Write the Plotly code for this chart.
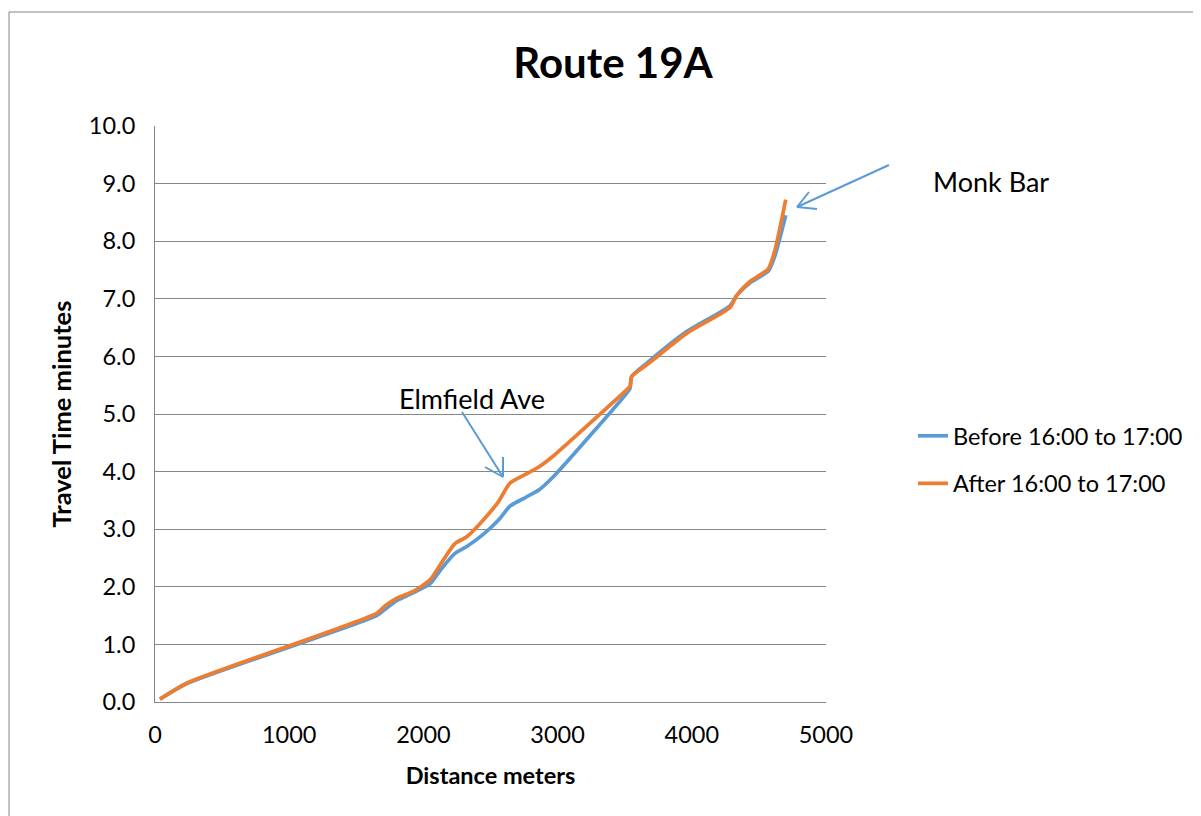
import plotly.graph_objects as go

# Data
distance = [37, 238, 1652, 1720, 1800, 1925, 2049, 2130, 2235, 2323, 2450, 2560, 2645, 2760,
            2860, 2968, 3514, 3540, 3552, 3663, 3961, 4285, 4335, 4434, 4570, 4620, 4700]
before = [0.05, 0.32, 1.50, 1.62, 1.76, 1.90, 2.05, 2.30, 2.58, 2.70, 2.92, 3.16, 3.40, 3.55,
          3.68, 3.91, 5.36, 5.45, 5.65, 5.88, 6.43, 6.88, 7.06, 7.28, 7.48, 7.75, 8.45]
after = [0.05, 0.33, 1.54, 1.68, 1.80, 1.92, 2.12, 2.40, 2.75, 2.87, 3.17, 3.48, 3.80, 3.95,
         4.08, 4.27, 5.42, 5.48, 5.65, 5.85, 6.40, 6.85, 7.06, 7.30, 7.52, 7.85, 8.72]
series_names = ["Before 16:00 to 17:00", "After 16:00 to 17:00"]
x_ticks = [0, 1000, 2000, 3000, 4000, 5000]
y_ticks = [0, 1, 2, 3, 4, 5, 6, 7, 8, 9, 10]

FONT = "Lato"
BLUE = "#5b9bd5"
ORANGE = "#ed7d31"
GRAY = "#868686"

# page has an 8px body margin; plot area on page: x 155..826, y 126..702
W, H = 1193, 808
PL, PR, PT, PB = 155, 826, 126, 702


def px(x):
    return (x - PL) / (PR - PL)


def py(y):
    return (PB - y) / (PB - PT)


fig = go.Figure()
fig.add_trace(go.Scatter(x=distance, y=before, mode="lines", name=series_names[0], legendgroup="a",
                         line=dict(color=BLUE, width=3.7, shape="spline", smoothing=0.6)))
fig.add_trace(go.Scatter(x=distance, y=after, mode="lines", name=series_names[1], legendgroup="b",
                         line=dict(color=ORANGE, width=3.7, shape="spline", smoothing=0.6)))

fig.update_layout(
    width=W, height=H,
    margin=dict(l=PL - 8, r=W - (PR - 8), t=PT - 8, b=H - (PB - 8)),
    paper_bgcolor="white", plot_bgcolor="white",
    font=dict(family=FONT, size=22, color="black"),
    title=dict(text="<b>Route 19A</b>", x=(613 - 8) / W, xanchor="center",
               y=1 - (63 - 8) / H, yanchor="middle", font=dict(family=FONT, size=42)),
    legend=dict(x=px(913), xanchor="left", y=py(460), yanchor="middle",
                font=dict(family=FONT, size=23.5), bgcolor="rgba(0,0,0,0)",
                traceorder="grouped", tracegroupgap=14),
    showlegend=True,
)
fig.update_xaxes(range=[0, 5000], tickvals=x_ticks, ticktext=[str(v) for v in x_ticks],
                 showgrid=False, showline=True, linecolor=GRAY, linewidth=1,
                 ticks="", ticklabelstandoff=12,
                 title=dict(text="<b>Distance meters</b>", font=dict(family=FONT, size=23.5), standoff=20),
                 zeroline=False, tickfont=dict(size=23.5))
fig.update_yaxes(range=[0, 10], tickvals=y_ticks, ticktext=[f"{v:.1f}" for v in y_ticks],
                 showgrid=True, gridcolor=GRAY, gridwidth=1, showline=True, linecolor=GRAY,
                 linewidth=1, ticks="", ticklabelstandoff=14,
                 title=dict(text="<b>Travel Time minutes</b>", font=dict(family=FONT, size=25.5), standoff=9),
                 zeroline=False, tickfont=dict(size=23.5))

# Outer chart border
fig.add_shape(type="rect", xref="paper", yref="paper",
              x0=px(9), x1=px(1215), y0=py(830), y1=py(12),
              line=dict(color=GRAY, width=1), layer="below")

# Annotation texts
fig.add_annotation(x=px(472), y=py(398), xref="paper", yref="paper", xanchor="center",
                   yanchor="middle", text="Elmfield Ave", showarrow=False,
                   font=dict(family=FONT, size=27))
fig.add_annotation(x=px(991), y=py(181), xref="paper", yref="paper", xanchor="center",
                   yanchor="middle", text="Monk Bar", showarrow=False,
                   font=dict(family=FONT, size=27))

# Arrows (shaft + open V head), positioned in page pixels
arrows = [
    ((462, 412), (503, 477), [(485, 467), (503, 457)]),
    ((889, 165), (797, 207), [(809, 192), (817, 209)]),
]
for tail, head, arms in arrows:
    fig.add_shape(type="line", xref="paper", yref="paper",
                  x0=px(tail[0]), y0=py(tail[1]), x1=px(head[0]), y1=py(head[1]),
                  line=dict(color=BLUE, width=2))
    for ax_, ay_ in arms:
        fig.add_shape(type="line", xref="paper", yref="paper",
                      x0=px(ax_), y0=py(ay_), x1=px(head[0]), y1=py(head[1]),
                      line=dict(color=BLUE, width=2))

fig.write_html("out.html")
